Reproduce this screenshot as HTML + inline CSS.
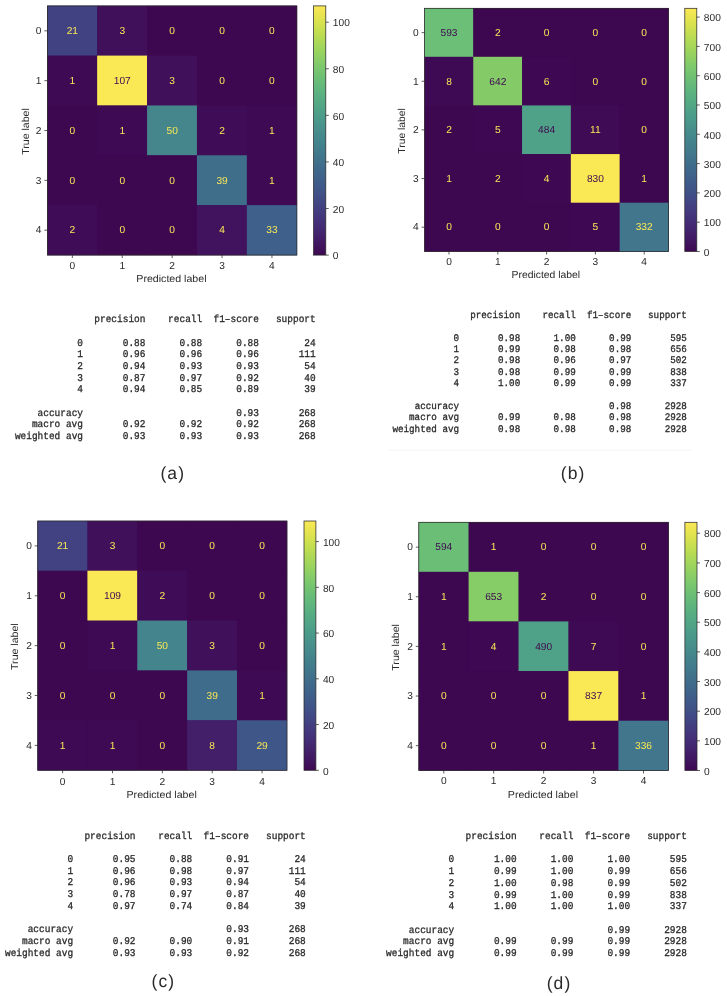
<!DOCTYPE html>
<html><head><meta charset="utf-8"><title>Confusion matrices</title>
<style>
html,body{margin:0;padding:0;background:#fff;}
body{width:727px;height:996px;overflow:hidden;}
svg{display:block;filter:blur(0.45px);}
text{font-family:"Liberation Sans",sans-serif;text-rendering:geometricPrecision;}
.m{font-family:"Liberation Mono",monospace;white-space:pre;}
</style></head><body>
<svg width="727" height="996" viewBox="0 0 727 996">
<rect x="0" y="0" width="727" height="996" fill="#ffffff"/>
<defs><linearGradient id="vir" x1="0" y1="1" x2="0" y2="0">
<stop offset="0.0000" stop-color="#3e0851"/>
<stop offset="0.0312" stop-color="#40125c"/>
<stop offset="0.0625" stop-color="#421b66"/>
<stop offset="0.0938" stop-color="#43256f"/>
<stop offset="0.1250" stop-color="#432e77"/>
<stop offset="0.1562" stop-color="#43377d"/>
<stop offset="0.1875" stop-color="#424081"/>
<stop offset="0.2188" stop-color="#414985"/>
<stop offset="0.2500" stop-color="#405287"/>
<stop offset="0.2812" stop-color="#3f5a89"/>
<stop offset="0.3125" stop-color="#3f628a"/>
<stop offset="0.3438" stop-color="#3f698b"/>
<stop offset="0.3750" stop-color="#40718b"/>
<stop offset="0.4062" stop-color="#41788c"/>
<stop offset="0.4375" stop-color="#42808c"/>
<stop offset="0.4688" stop-color="#44878c"/>
<stop offset="0.5000" stop-color="#478e8c"/>
<stop offset="0.5312" stop-color="#49968b"/>
<stop offset="0.5625" stop-color="#4c9d89"/>
<stop offset="0.5938" stop-color="#51a586"/>
<stop offset="0.6250" stop-color="#56ac83"/>
<stop offset="0.6562" stop-color="#5db37f"/>
<stop offset="0.6875" stop-color="#65ba7a"/>
<stop offset="0.7188" stop-color="#6fc074"/>
<stop offset="0.7500" stop-color="#7ac76e"/>
<stop offset="0.7812" stop-color="#88cd67"/>
<stop offset="0.8125" stop-color="#96d25f"/>
<stop offset="0.8438" stop-color="#a6d759"/>
<stop offset="0.8750" stop-color="#b7db53"/>
<stop offset="0.9062" stop-color="#c8df4f"/>
<stop offset="0.9375" stop-color="#dae24e"/>
<stop offset="0.9688" stop-color="#ebe550"/>
<stop offset="1.0000" stop-color="#fae855"/>
</linearGradient></defs>
<g>
<rect x="47.40" y="5.90" width="249.50" height="249.20" fill="#3e0851"/>
<rect x="47.25" y="5.75" width="50.20" height="50.14" fill="#414282"/>
<rect x="97.15" y="5.75" width="50.20" height="50.14" fill="#40105b"/>
<rect x="147.05" y="5.75" width="50.20" height="50.14" fill="#3e0851"/>
<rect x="196.95" y="5.75" width="50.20" height="50.14" fill="#3e0851"/>
<rect x="246.85" y="5.75" width="50.20" height="50.14" fill="#3e0851"/>
<rect x="47.25" y="55.59" width="50.20" height="50.14" fill="#3e0a54"/>
<rect x="97.15" y="55.59" width="50.20" height="50.14" fill="#fae855"/>
<rect x="147.05" y="55.59" width="50.20" height="50.14" fill="#40105b"/>
<rect x="196.95" y="55.59" width="50.20" height="50.14" fill="#3e0851"/>
<rect x="246.85" y="55.59" width="50.20" height="50.14" fill="#3e0851"/>
<rect x="47.25" y="105.43" width="50.20" height="50.14" fill="#3e0851"/>
<rect x="97.15" y="105.43" width="50.20" height="50.14" fill="#3e0a54"/>
<rect x="147.05" y="105.43" width="50.20" height="50.14" fill="#44868c"/>
<rect x="196.95" y="105.43" width="50.20" height="50.14" fill="#3f0d57"/>
<rect x="246.85" y="105.43" width="50.20" height="50.14" fill="#3e0a54"/>
<rect x="47.25" y="155.27" width="50.20" height="50.14" fill="#3e0851"/>
<rect x="97.15" y="155.27" width="50.20" height="50.14" fill="#3e0851"/>
<rect x="147.05" y="155.27" width="50.20" height="50.14" fill="#3e0851"/>
<rect x="196.95" y="155.27" width="50.20" height="50.14" fill="#3f6e8b"/>
<rect x="246.85" y="155.27" width="50.20" height="50.14" fill="#3e0a54"/>
<rect x="47.25" y="205.11" width="50.20" height="50.14" fill="#3f0d57"/>
<rect x="97.15" y="205.11" width="50.20" height="50.14" fill="#3e0851"/>
<rect x="147.05" y="205.11" width="50.20" height="50.14" fill="#3e0851"/>
<rect x="196.95" y="205.11" width="50.20" height="50.14" fill="#41135e"/>
<rect x="246.85" y="205.11" width="50.20" height="50.14" fill="#3f608a"/>
<rect x="47.40" y="5.90" width="249.50" height="249.20" fill="none" stroke="#2a2a2a" stroke-width="0.75"/>
<text x="72.35" y="34.12" font-size="10.20" text-anchor="middle" fill="#fae855">21</text>
<text x="122.25" y="34.12" font-size="10.20" text-anchor="middle" fill="#fae855">3</text>
<text x="172.15" y="34.12" font-size="10.20" text-anchor="middle" fill="#fae855">0</text>
<text x="222.05" y="34.12" font-size="10.20" text-anchor="middle" fill="#fae855">0</text>
<text x="271.95" y="34.12" font-size="10.20" text-anchor="middle" fill="#fae855">0</text>
<text x="72.35" y="83.96" font-size="10.20" text-anchor="middle" fill="#fae855">1</text>
<text x="122.25" y="83.96" font-size="10.20" text-anchor="middle" fill="#3e0851">107</text>
<text x="172.15" y="83.96" font-size="10.20" text-anchor="middle" fill="#fae855">3</text>
<text x="222.05" y="83.96" font-size="10.20" text-anchor="middle" fill="#fae855">0</text>
<text x="271.95" y="83.96" font-size="10.20" text-anchor="middle" fill="#fae855">0</text>
<text x="72.35" y="133.80" font-size="10.20" text-anchor="middle" fill="#fae855">0</text>
<text x="122.25" y="133.80" font-size="10.20" text-anchor="middle" fill="#fae855">1</text>
<text x="172.15" y="133.80" font-size="10.20" text-anchor="middle" fill="#fae855">50</text>
<text x="222.05" y="133.80" font-size="10.20" text-anchor="middle" fill="#fae855">2</text>
<text x="271.95" y="133.80" font-size="10.20" text-anchor="middle" fill="#fae855">1</text>
<text x="72.35" y="183.64" font-size="10.20" text-anchor="middle" fill="#fae855">0</text>
<text x="122.25" y="183.64" font-size="10.20" text-anchor="middle" fill="#fae855">0</text>
<text x="172.15" y="183.64" font-size="10.20" text-anchor="middle" fill="#fae855">0</text>
<text x="222.05" y="183.64" font-size="10.20" text-anchor="middle" fill="#fae855">39</text>
<text x="271.95" y="183.64" font-size="10.20" text-anchor="middle" fill="#fae855">1</text>
<text x="72.35" y="233.48" font-size="10.20" text-anchor="middle" fill="#fae855">2</text>
<text x="122.25" y="233.48" font-size="10.20" text-anchor="middle" fill="#fae855">0</text>
<text x="172.15" y="233.48" font-size="10.20" text-anchor="middle" fill="#fae855">0</text>
<text x="222.05" y="233.48" font-size="10.20" text-anchor="middle" fill="#fae855">4</text>
<text x="271.95" y="233.48" font-size="10.20" text-anchor="middle" fill="#fae855">33</text>
<line x1="72.35" y1="255.10" x2="72.35" y2="258.10" stroke="#2a2a2a" stroke-width="0.75"/>
<line x1="44.40" y1="30.82" x2="47.40" y2="30.82" stroke="#2a2a2a" stroke-width="0.75"/>
<text x="72.35" y="269.20" font-size="10.2" text-anchor="middle" fill="#2a2a2a">0</text>
<text x="41.50" y="34.12" font-size="10.2" text-anchor="end" fill="#2a2a2a">0</text>
<line x1="122.25" y1="255.10" x2="122.25" y2="258.10" stroke="#2a2a2a" stroke-width="0.75"/>
<line x1="44.40" y1="80.66" x2="47.40" y2="80.66" stroke="#2a2a2a" stroke-width="0.75"/>
<text x="122.25" y="269.20" font-size="10.2" text-anchor="middle" fill="#2a2a2a">1</text>
<text x="41.50" y="83.96" font-size="10.2" text-anchor="end" fill="#2a2a2a">1</text>
<line x1="172.15" y1="255.10" x2="172.15" y2="258.10" stroke="#2a2a2a" stroke-width="0.75"/>
<line x1="44.40" y1="130.50" x2="47.40" y2="130.50" stroke="#2a2a2a" stroke-width="0.75"/>
<text x="172.15" y="269.20" font-size="10.2" text-anchor="middle" fill="#2a2a2a">2</text>
<text x="41.50" y="133.80" font-size="10.2" text-anchor="end" fill="#2a2a2a">2</text>
<line x1="222.05" y1="255.10" x2="222.05" y2="258.10" stroke="#2a2a2a" stroke-width="0.75"/>
<line x1="44.40" y1="180.34" x2="47.40" y2="180.34" stroke="#2a2a2a" stroke-width="0.75"/>
<text x="222.05" y="269.20" font-size="10.2" text-anchor="middle" fill="#2a2a2a">3</text>
<text x="41.50" y="183.64" font-size="10.2" text-anchor="end" fill="#2a2a2a">3</text>
<line x1="271.95" y1="255.10" x2="271.95" y2="258.10" stroke="#2a2a2a" stroke-width="0.75"/>
<line x1="44.40" y1="230.18" x2="47.40" y2="230.18" stroke="#2a2a2a" stroke-width="0.75"/>
<text x="271.95" y="269.20" font-size="10.2" text-anchor="middle" fill="#2a2a2a">4</text>
<text x="41.50" y="233.48" font-size="10.2" text-anchor="end" fill="#2a2a2a">4</text>
<text x="171.45" y="282.00" font-size="10.10" text-anchor="middle" textLength="70.20" lengthAdjust="spacingAndGlyphs" fill="#2a2a2a">Predicted label</text>
<text transform="translate(29.00 131.50) rotate(-90)" font-size="10.10" text-anchor="middle" textLength="46.60" lengthAdjust="spacingAndGlyphs" fill="#2a2a2a">True label</text>
<rect x="313.60" y="5.90" width="12.20" height="249.20" fill="url(#vir)" stroke="#2a2a2a" stroke-width="0.75"/>
<line x1="325.80" y1="255.10" x2="328.80" y2="255.10" stroke="#2a2a2a" stroke-width="0.75"/>
<text x="332.80" y="259.30" font-size="10.2" fill="#2a2a2a">0</text>
<line x1="325.80" y1="208.52" x2="328.80" y2="208.52" stroke="#2a2a2a" stroke-width="0.75"/>
<text x="332.80" y="212.72" font-size="10.2" fill="#2a2a2a">20</text>
<line x1="325.80" y1="161.94" x2="328.80" y2="161.94" stroke="#2a2a2a" stroke-width="0.75"/>
<text x="332.80" y="166.14" font-size="10.2" fill="#2a2a2a">40</text>
<line x1="325.80" y1="115.36" x2="328.80" y2="115.36" stroke="#2a2a2a" stroke-width="0.75"/>
<text x="332.80" y="119.56" font-size="10.2" fill="#2a2a2a">60</text>
<line x1="325.80" y1="68.78" x2="328.80" y2="68.78" stroke="#2a2a2a" stroke-width="0.75"/>
<text x="332.80" y="72.98" font-size="10.2" fill="#2a2a2a">80</text>
<line x1="325.80" y1="22.20" x2="328.80" y2="22.20" stroke="#2a2a2a" stroke-width="0.75"/>
<text x="332.80" y="26.40" font-size="10.2" fill="#2a2a2a">100</text>
</g>
<g>
<rect x="424.60" y="8.30" width="244.00" height="243.20" fill="#3e0851"/>
<rect x="424.45" y="8.15" width="49.10" height="48.94" fill="#6cbf76"/>
<rect x="473.25" y="8.15" width="49.10" height="48.94" fill="#3e0851"/>
<rect x="522.05" y="8.15" width="49.10" height="48.94" fill="#3e0851"/>
<rect x="570.85" y="8.15" width="49.10" height="48.94" fill="#3e0851"/>
<rect x="619.65" y="8.15" width="49.10" height="48.94" fill="#3e0851"/>
<rect x="424.45" y="56.79" width="49.10" height="48.94" fill="#3e0a54"/>
<rect x="473.25" y="56.79" width="49.10" height="48.94" fill="#84cb68"/>
<rect x="522.05" y="56.79" width="49.10" height="48.94" fill="#3e0952"/>
<rect x="570.85" y="56.79" width="49.10" height="48.94" fill="#3e0851"/>
<rect x="619.65" y="56.79" width="49.10" height="48.94" fill="#3e0851"/>
<rect x="424.45" y="105.43" width="49.10" height="48.94" fill="#3e0851"/>
<rect x="473.25" y="105.43" width="49.10" height="48.94" fill="#3e0952"/>
<rect x="522.05" y="105.43" width="49.10" height="48.94" fill="#4fa287"/>
<rect x="570.85" y="105.43" width="49.10" height="48.94" fill="#3f0b55"/>
<rect x="619.65" y="105.43" width="49.10" height="48.94" fill="#3e0851"/>
<rect x="424.45" y="154.07" width="49.10" height="48.94" fill="#3e0851"/>
<rect x="473.25" y="154.07" width="49.10" height="48.94" fill="#3e0851"/>
<rect x="522.05" y="154.07" width="49.10" height="48.94" fill="#3e0952"/>
<rect x="570.85" y="154.07" width="49.10" height="48.94" fill="#fae855"/>
<rect x="619.65" y="154.07" width="49.10" height="48.94" fill="#3e0851"/>
<rect x="424.45" y="202.71" width="49.10" height="48.94" fill="#3e0851"/>
<rect x="473.25" y="202.71" width="49.10" height="48.94" fill="#3e0851"/>
<rect x="522.05" y="202.71" width="49.10" height="48.94" fill="#3e0851"/>
<rect x="570.85" y="202.71" width="49.10" height="48.94" fill="#3e0952"/>
<rect x="619.65" y="202.71" width="49.10" height="48.94" fill="#41768c"/>
<rect x="424.60" y="8.30" width="244.00" height="243.20" fill="none" stroke="#2a2a2a" stroke-width="0.75"/>
<text x="449.00" y="35.92" font-size="10.20" text-anchor="middle" fill="#3e0851">593</text>
<text x="497.80" y="35.92" font-size="10.20" text-anchor="middle" fill="#fae855">2</text>
<text x="546.60" y="35.92" font-size="10.20" text-anchor="middle" fill="#fae855">0</text>
<text x="595.40" y="35.92" font-size="10.20" text-anchor="middle" fill="#fae855">0</text>
<text x="644.20" y="35.92" font-size="10.20" text-anchor="middle" fill="#fae855">0</text>
<text x="449.00" y="84.56" font-size="10.20" text-anchor="middle" fill="#fae855">8</text>
<text x="497.80" y="84.56" font-size="10.20" text-anchor="middle" fill="#3e0851">642</text>
<text x="546.60" y="84.56" font-size="10.20" text-anchor="middle" fill="#fae855">6</text>
<text x="595.40" y="84.56" font-size="10.20" text-anchor="middle" fill="#fae855">0</text>
<text x="644.20" y="84.56" font-size="10.20" text-anchor="middle" fill="#fae855">0</text>
<text x="449.00" y="133.20" font-size="10.20" text-anchor="middle" fill="#fae855">2</text>
<text x="497.80" y="133.20" font-size="10.20" text-anchor="middle" fill="#fae855">5</text>
<text x="546.60" y="133.20" font-size="10.20" text-anchor="middle" fill="#3e0851">484</text>
<text x="595.40" y="133.20" font-size="10.20" text-anchor="middle" fill="#fae855">11</text>
<text x="644.20" y="133.20" font-size="10.20" text-anchor="middle" fill="#fae855">0</text>
<text x="449.00" y="181.84" font-size="10.20" text-anchor="middle" fill="#fae855">1</text>
<text x="497.80" y="181.84" font-size="10.20" text-anchor="middle" fill="#fae855">2</text>
<text x="546.60" y="181.84" font-size="10.20" text-anchor="middle" fill="#fae855">4</text>
<text x="595.40" y="181.84" font-size="10.20" text-anchor="middle" fill="#3e0851">830</text>
<text x="644.20" y="181.84" font-size="10.20" text-anchor="middle" fill="#fae855">1</text>
<text x="449.00" y="230.48" font-size="10.20" text-anchor="middle" fill="#fae855">0</text>
<text x="497.80" y="230.48" font-size="10.20" text-anchor="middle" fill="#fae855">0</text>
<text x="546.60" y="230.48" font-size="10.20" text-anchor="middle" fill="#fae855">0</text>
<text x="595.40" y="230.48" font-size="10.20" text-anchor="middle" fill="#fae855">5</text>
<text x="644.20" y="230.48" font-size="10.20" text-anchor="middle" fill="#fae855">332</text>
<line x1="449.00" y1="251.50" x2="449.00" y2="254.50" stroke="#2a2a2a" stroke-width="0.75"/>
<line x1="421.60" y1="32.62" x2="424.60" y2="32.62" stroke="#2a2a2a" stroke-width="0.75"/>
<text x="449.00" y="264.80" font-size="10.2" text-anchor="middle" fill="#2a2a2a">0</text>
<text x="418.70" y="35.92" font-size="10.2" text-anchor="end" fill="#2a2a2a">0</text>
<line x1="497.80" y1="251.50" x2="497.80" y2="254.50" stroke="#2a2a2a" stroke-width="0.75"/>
<line x1="421.60" y1="81.26" x2="424.60" y2="81.26" stroke="#2a2a2a" stroke-width="0.75"/>
<text x="497.80" y="264.80" font-size="10.2" text-anchor="middle" fill="#2a2a2a">1</text>
<text x="418.70" y="84.56" font-size="10.2" text-anchor="end" fill="#2a2a2a">1</text>
<line x1="546.60" y1="251.50" x2="546.60" y2="254.50" stroke="#2a2a2a" stroke-width="0.75"/>
<line x1="421.60" y1="129.90" x2="424.60" y2="129.90" stroke="#2a2a2a" stroke-width="0.75"/>
<text x="546.60" y="264.80" font-size="10.2" text-anchor="middle" fill="#2a2a2a">2</text>
<text x="418.70" y="133.20" font-size="10.2" text-anchor="end" fill="#2a2a2a">2</text>
<line x1="595.40" y1="251.50" x2="595.40" y2="254.50" stroke="#2a2a2a" stroke-width="0.75"/>
<line x1="421.60" y1="178.54" x2="424.60" y2="178.54" stroke="#2a2a2a" stroke-width="0.75"/>
<text x="595.40" y="264.80" font-size="10.2" text-anchor="middle" fill="#2a2a2a">3</text>
<text x="418.70" y="181.84" font-size="10.2" text-anchor="end" fill="#2a2a2a">3</text>
<line x1="644.20" y1="251.50" x2="644.20" y2="254.50" stroke="#2a2a2a" stroke-width="0.75"/>
<line x1="421.60" y1="227.18" x2="424.60" y2="227.18" stroke="#2a2a2a" stroke-width="0.75"/>
<text x="644.20" y="264.80" font-size="10.2" text-anchor="middle" fill="#2a2a2a">4</text>
<text x="418.70" y="230.48" font-size="10.2" text-anchor="end" fill="#2a2a2a">4</text>
<text x="545.90" y="278.20" font-size="10.10" text-anchor="middle" textLength="68.59" lengthAdjust="spacingAndGlyphs" fill="#2a2a2a">Predicted label</text>
<text transform="translate(405.40 130.90) rotate(-90)" font-size="10.10" text-anchor="middle" textLength="45.53" lengthAdjust="spacingAndGlyphs" fill="#2a2a2a">True label</text>
<rect x="684.80" y="8.30" width="12.00" height="243.20" fill="url(#vir)" stroke="#2a2a2a" stroke-width="0.75"/>
<line x1="696.80" y1="251.50" x2="699.80" y2="251.50" stroke="#2a2a2a" stroke-width="0.75"/>
<text x="703.80" y="255.70" font-size="10.2" fill="#2a2a2a">0</text>
<line x1="696.80" y1="222.20" x2="699.80" y2="222.20" stroke="#2a2a2a" stroke-width="0.75"/>
<text x="703.80" y="226.40" font-size="10.2" fill="#2a2a2a">100</text>
<line x1="696.80" y1="192.90" x2="699.80" y2="192.90" stroke="#2a2a2a" stroke-width="0.75"/>
<text x="703.80" y="197.10" font-size="10.2" fill="#2a2a2a">200</text>
<line x1="696.80" y1="163.60" x2="699.80" y2="163.60" stroke="#2a2a2a" stroke-width="0.75"/>
<text x="703.80" y="167.80" font-size="10.2" fill="#2a2a2a">300</text>
<line x1="696.80" y1="134.30" x2="699.80" y2="134.30" stroke="#2a2a2a" stroke-width="0.75"/>
<text x="703.80" y="138.50" font-size="10.2" fill="#2a2a2a">400</text>
<line x1="696.80" y1="104.99" x2="699.80" y2="104.99" stroke="#2a2a2a" stroke-width="0.75"/>
<text x="703.80" y="109.19" font-size="10.2" fill="#2a2a2a">500</text>
<line x1="696.80" y1="75.69" x2="699.80" y2="75.69" stroke="#2a2a2a" stroke-width="0.75"/>
<text x="703.80" y="79.89" font-size="10.2" fill="#2a2a2a">600</text>
<line x1="696.80" y1="46.39" x2="699.80" y2="46.39" stroke="#2a2a2a" stroke-width="0.75"/>
<text x="703.80" y="50.59" font-size="10.2" fill="#2a2a2a">700</text>
<line x1="696.80" y1="17.09" x2="699.80" y2="17.09" stroke="#2a2a2a" stroke-width="0.75"/>
<text x="703.80" y="21.29" font-size="10.2" fill="#2a2a2a">800</text>
</g>
<g>
<rect x="37.70" y="521.00" width="249.30" height="249.30" fill="#3e0851"/>
<rect x="37.55" y="520.85" width="50.16" height="50.16" fill="#424182"/>
<rect x="87.41" y="520.85" width="50.16" height="50.16" fill="#40105b"/>
<rect x="137.27" y="520.85" width="50.16" height="50.16" fill="#3e0851"/>
<rect x="187.13" y="520.85" width="50.16" height="50.16" fill="#3e0851"/>
<rect x="236.99" y="520.85" width="50.16" height="50.16" fill="#3e0851"/>
<rect x="37.55" y="570.71" width="50.16" height="50.16" fill="#3e0851"/>
<rect x="87.41" y="570.71" width="50.16" height="50.16" fill="#fae855"/>
<rect x="137.27" y="570.71" width="50.16" height="50.16" fill="#3f0d57"/>
<rect x="187.13" y="570.71" width="50.16" height="50.16" fill="#3e0851"/>
<rect x="236.99" y="570.71" width="50.16" height="50.16" fill="#3e0851"/>
<rect x="37.55" y="620.57" width="50.16" height="50.16" fill="#3e0851"/>
<rect x="87.41" y="620.57" width="50.16" height="50.16" fill="#3e0a54"/>
<rect x="137.27" y="620.57" width="50.16" height="50.16" fill="#44848c"/>
<rect x="187.13" y="620.57" width="50.16" height="50.16" fill="#40105b"/>
<rect x="236.99" y="620.57" width="50.16" height="50.16" fill="#3e0851"/>
<rect x="37.55" y="670.43" width="50.16" height="50.16" fill="#3e0851"/>
<rect x="87.41" y="670.43" width="50.16" height="50.16" fill="#3e0851"/>
<rect x="137.27" y="670.43" width="50.16" height="50.16" fill="#3e0851"/>
<rect x="187.13" y="670.43" width="50.16" height="50.16" fill="#3f6c8b"/>
<rect x="236.99" y="670.43" width="50.16" height="50.16" fill="#3e0a54"/>
<rect x="37.55" y="720.29" width="50.16" height="50.16" fill="#3e0a54"/>
<rect x="87.41" y="720.29" width="50.16" height="50.16" fill="#3e0a54"/>
<rect x="137.27" y="720.29" width="50.16" height="50.16" fill="#3e0851"/>
<rect x="187.13" y="720.29" width="50.16" height="50.16" fill="#431e69"/>
<rect x="236.99" y="720.29" width="50.16" height="50.16" fill="#3f5688"/>
<rect x="37.70" y="521.00" width="249.30" height="249.30" fill="none" stroke="#2a2a2a" stroke-width="0.75"/>
<text x="62.63" y="549.23" font-size="10.20" text-anchor="middle" fill="#fae855">21</text>
<text x="112.49" y="549.23" font-size="10.20" text-anchor="middle" fill="#fae855">3</text>
<text x="162.35" y="549.23" font-size="10.20" text-anchor="middle" fill="#fae855">0</text>
<text x="212.21" y="549.23" font-size="10.20" text-anchor="middle" fill="#fae855">0</text>
<text x="262.07" y="549.23" font-size="10.20" text-anchor="middle" fill="#fae855">0</text>
<text x="62.63" y="599.09" font-size="10.20" text-anchor="middle" fill="#fae855">0</text>
<text x="112.49" y="599.09" font-size="10.20" text-anchor="middle" fill="#3e0851">109</text>
<text x="162.35" y="599.09" font-size="10.20" text-anchor="middle" fill="#fae855">2</text>
<text x="212.21" y="599.09" font-size="10.20" text-anchor="middle" fill="#fae855">0</text>
<text x="262.07" y="599.09" font-size="10.20" text-anchor="middle" fill="#fae855">0</text>
<text x="62.63" y="648.95" font-size="10.20" text-anchor="middle" fill="#fae855">0</text>
<text x="112.49" y="648.95" font-size="10.20" text-anchor="middle" fill="#fae855">1</text>
<text x="162.35" y="648.95" font-size="10.20" text-anchor="middle" fill="#fae855">50</text>
<text x="212.21" y="648.95" font-size="10.20" text-anchor="middle" fill="#fae855">3</text>
<text x="262.07" y="648.95" font-size="10.20" text-anchor="middle" fill="#fae855">0</text>
<text x="62.63" y="698.81" font-size="10.20" text-anchor="middle" fill="#fae855">0</text>
<text x="112.49" y="698.81" font-size="10.20" text-anchor="middle" fill="#fae855">0</text>
<text x="162.35" y="698.81" font-size="10.20" text-anchor="middle" fill="#fae855">0</text>
<text x="212.21" y="698.81" font-size="10.20" text-anchor="middle" fill="#fae855">39</text>
<text x="262.07" y="698.81" font-size="10.20" text-anchor="middle" fill="#fae855">1</text>
<text x="62.63" y="748.67" font-size="10.20" text-anchor="middle" fill="#fae855">1</text>
<text x="112.49" y="748.67" font-size="10.20" text-anchor="middle" fill="#fae855">1</text>
<text x="162.35" y="748.67" font-size="10.20" text-anchor="middle" fill="#fae855">0</text>
<text x="212.21" y="748.67" font-size="10.20" text-anchor="middle" fill="#fae855">8</text>
<text x="262.07" y="748.67" font-size="10.20" text-anchor="middle" fill="#fae855">29</text>
<line x1="62.63" y1="770.30" x2="62.63" y2="773.30" stroke="#2a2a2a" stroke-width="0.75"/>
<line x1="34.70" y1="545.93" x2="37.70" y2="545.93" stroke="#2a2a2a" stroke-width="0.75"/>
<text x="62.63" y="784.50" font-size="10.2" text-anchor="middle" fill="#2a2a2a">0</text>
<text x="31.80" y="549.23" font-size="10.2" text-anchor="end" fill="#2a2a2a">0</text>
<line x1="112.49" y1="770.30" x2="112.49" y2="773.30" stroke="#2a2a2a" stroke-width="0.75"/>
<line x1="34.70" y1="595.79" x2="37.70" y2="595.79" stroke="#2a2a2a" stroke-width="0.75"/>
<text x="112.49" y="784.50" font-size="10.2" text-anchor="middle" fill="#2a2a2a">1</text>
<text x="31.80" y="599.09" font-size="10.2" text-anchor="end" fill="#2a2a2a">1</text>
<line x1="162.35" y1="770.30" x2="162.35" y2="773.30" stroke="#2a2a2a" stroke-width="0.75"/>
<line x1="34.70" y1="645.65" x2="37.70" y2="645.65" stroke="#2a2a2a" stroke-width="0.75"/>
<text x="162.35" y="784.50" font-size="10.2" text-anchor="middle" fill="#2a2a2a">2</text>
<text x="31.80" y="648.95" font-size="10.2" text-anchor="end" fill="#2a2a2a">2</text>
<line x1="212.21" y1="770.30" x2="212.21" y2="773.30" stroke="#2a2a2a" stroke-width="0.75"/>
<line x1="34.70" y1="695.51" x2="37.70" y2="695.51" stroke="#2a2a2a" stroke-width="0.75"/>
<text x="212.21" y="784.50" font-size="10.2" text-anchor="middle" fill="#2a2a2a">3</text>
<text x="31.80" y="698.81" font-size="10.2" text-anchor="end" fill="#2a2a2a">3</text>
<line x1="262.07" y1="770.30" x2="262.07" y2="773.30" stroke="#2a2a2a" stroke-width="0.75"/>
<line x1="34.70" y1="745.37" x2="37.70" y2="745.37" stroke="#2a2a2a" stroke-width="0.75"/>
<text x="262.07" y="784.50" font-size="10.2" text-anchor="middle" fill="#2a2a2a">4</text>
<text x="31.80" y="748.67" font-size="10.2" text-anchor="end" fill="#2a2a2a">4</text>
<text x="161.65" y="798.20" font-size="10.10" text-anchor="middle" textLength="70.20" lengthAdjust="spacingAndGlyphs" fill="#2a2a2a">Predicted label</text>
<text transform="translate(18.10 646.65) rotate(-90)" font-size="10.10" text-anchor="middle" textLength="46.60" lengthAdjust="spacingAndGlyphs" fill="#2a2a2a">True label</text>
<rect x="304.00" y="521.00" width="11.90" height="249.30" fill="url(#vir)" stroke="#2a2a2a" stroke-width="0.75"/>
<line x1="315.90" y1="770.30" x2="318.90" y2="770.30" stroke="#2a2a2a" stroke-width="0.75"/>
<text x="322.90" y="774.50" font-size="10.2" fill="#2a2a2a">0</text>
<line x1="315.90" y1="724.56" x2="318.90" y2="724.56" stroke="#2a2a2a" stroke-width="0.75"/>
<text x="322.90" y="728.76" font-size="10.2" fill="#2a2a2a">20</text>
<line x1="315.90" y1="678.81" x2="318.90" y2="678.81" stroke="#2a2a2a" stroke-width="0.75"/>
<text x="322.90" y="683.01" font-size="10.2" fill="#2a2a2a">40</text>
<line x1="315.90" y1="633.07" x2="318.90" y2="633.07" stroke="#2a2a2a" stroke-width="0.75"/>
<text x="322.90" y="637.27" font-size="10.2" fill="#2a2a2a">60</text>
<line x1="315.90" y1="587.33" x2="318.90" y2="587.33" stroke="#2a2a2a" stroke-width="0.75"/>
<text x="322.90" y="591.53" font-size="10.2" fill="#2a2a2a">80</text>
<line x1="315.90" y1="541.58" x2="318.90" y2="541.58" stroke="#2a2a2a" stroke-width="0.75"/>
<text x="322.90" y="545.78" font-size="10.2" fill="#2a2a2a">100</text>
</g>
<g>
<rect x="418.80" y="522.30" width="249.70" height="248.20" fill="#3e0851"/>
<rect x="418.65" y="522.15" width="50.24" height="49.94" fill="#6bbe76"/>
<rect x="468.59" y="522.15" width="50.24" height="49.94" fill="#3e0851"/>
<rect x="518.53" y="522.15" width="50.24" height="49.94" fill="#3e0851"/>
<rect x="568.47" y="522.15" width="50.24" height="49.94" fill="#3e0851"/>
<rect x="618.41" y="522.15" width="50.24" height="49.94" fill="#3e0851"/>
<rect x="418.65" y="571.79" width="50.24" height="49.94" fill="#3e0851"/>
<rect x="468.59" y="571.79" width="50.24" height="49.94" fill="#86cc67"/>
<rect x="518.53" y="571.79" width="50.24" height="49.94" fill="#3e0851"/>
<rect x="568.47" y="571.79" width="50.24" height="49.94" fill="#3e0851"/>
<rect x="618.41" y="571.79" width="50.24" height="49.94" fill="#3e0851"/>
<rect x="418.65" y="621.43" width="50.24" height="49.94" fill="#3e0851"/>
<rect x="468.59" y="621.43" width="50.24" height="49.94" fill="#3e0952"/>
<rect x="518.53" y="621.43" width="50.24" height="49.94" fill="#4fa287"/>
<rect x="568.47" y="621.43" width="50.24" height="49.94" fill="#3e0a54"/>
<rect x="618.41" y="621.43" width="50.24" height="49.94" fill="#3e0851"/>
<rect x="418.65" y="671.07" width="50.24" height="49.94" fill="#3e0851"/>
<rect x="468.59" y="671.07" width="50.24" height="49.94" fill="#3e0851"/>
<rect x="518.53" y="671.07" width="50.24" height="49.94" fill="#3e0851"/>
<rect x="568.47" y="671.07" width="50.24" height="49.94" fill="#fae855"/>
<rect x="618.41" y="671.07" width="50.24" height="49.94" fill="#3e0851"/>
<rect x="418.65" y="720.71" width="50.24" height="49.94" fill="#3e0851"/>
<rect x="468.59" y="720.71" width="50.24" height="49.94" fill="#3e0851"/>
<rect x="518.53" y="720.71" width="50.24" height="49.94" fill="#3e0851"/>
<rect x="568.47" y="720.71" width="50.24" height="49.94" fill="#3e0851"/>
<rect x="618.41" y="720.71" width="50.24" height="49.94" fill="#41768c"/>
<rect x="418.80" y="522.30" width="249.70" height="248.20" fill="none" stroke="#2a2a2a" stroke-width="0.75"/>
<text x="443.77" y="550.42" font-size="10.20" text-anchor="middle" fill="#3e0851">594</text>
<text x="493.71" y="550.42" font-size="10.20" text-anchor="middle" fill="#fae855">1</text>
<text x="543.65" y="550.42" font-size="10.20" text-anchor="middle" fill="#fae855">0</text>
<text x="593.59" y="550.42" font-size="10.20" text-anchor="middle" fill="#fae855">0</text>
<text x="643.53" y="550.42" font-size="10.20" text-anchor="middle" fill="#fae855">0</text>
<text x="443.77" y="600.06" font-size="10.20" text-anchor="middle" fill="#fae855">1</text>
<text x="493.71" y="600.06" font-size="10.20" text-anchor="middle" fill="#3e0851">653</text>
<text x="543.65" y="600.06" font-size="10.20" text-anchor="middle" fill="#fae855">2</text>
<text x="593.59" y="600.06" font-size="10.20" text-anchor="middle" fill="#fae855">0</text>
<text x="643.53" y="600.06" font-size="10.20" text-anchor="middle" fill="#fae855">0</text>
<text x="443.77" y="649.70" font-size="10.20" text-anchor="middle" fill="#fae855">1</text>
<text x="493.71" y="649.70" font-size="10.20" text-anchor="middle" fill="#fae855">4</text>
<text x="543.65" y="649.70" font-size="10.20" text-anchor="middle" fill="#3e0851">490</text>
<text x="593.59" y="649.70" font-size="10.20" text-anchor="middle" fill="#fae855">7</text>
<text x="643.53" y="649.70" font-size="10.20" text-anchor="middle" fill="#fae855">0</text>
<text x="443.77" y="699.34" font-size="10.20" text-anchor="middle" fill="#fae855">0</text>
<text x="493.71" y="699.34" font-size="10.20" text-anchor="middle" fill="#fae855">0</text>
<text x="543.65" y="699.34" font-size="10.20" text-anchor="middle" fill="#fae855">0</text>
<text x="593.59" y="699.34" font-size="10.20" text-anchor="middle" fill="#3e0851">837</text>
<text x="643.53" y="699.34" font-size="10.20" text-anchor="middle" fill="#fae855">1</text>
<text x="443.77" y="748.98" font-size="10.20" text-anchor="middle" fill="#fae855">0</text>
<text x="493.71" y="748.98" font-size="10.20" text-anchor="middle" fill="#fae855">0</text>
<text x="543.65" y="748.98" font-size="10.20" text-anchor="middle" fill="#fae855">0</text>
<text x="593.59" y="748.98" font-size="10.20" text-anchor="middle" fill="#fae855">1</text>
<text x="643.53" y="748.98" font-size="10.20" text-anchor="middle" fill="#fae855">336</text>
<line x1="443.77" y1="770.50" x2="443.77" y2="773.50" stroke="#2a2a2a" stroke-width="0.75"/>
<line x1="415.80" y1="547.12" x2="418.80" y2="547.12" stroke="#2a2a2a" stroke-width="0.75"/>
<text x="443.77" y="784.40" font-size="10.2" text-anchor="middle" fill="#2a2a2a">0</text>
<text x="412.90" y="550.42" font-size="10.2" text-anchor="end" fill="#2a2a2a">0</text>
<line x1="493.71" y1="770.50" x2="493.71" y2="773.50" stroke="#2a2a2a" stroke-width="0.75"/>
<line x1="415.80" y1="596.76" x2="418.80" y2="596.76" stroke="#2a2a2a" stroke-width="0.75"/>
<text x="493.71" y="784.40" font-size="10.2" text-anchor="middle" fill="#2a2a2a">1</text>
<text x="412.90" y="600.06" font-size="10.2" text-anchor="end" fill="#2a2a2a">1</text>
<line x1="543.65" y1="770.50" x2="543.65" y2="773.50" stroke="#2a2a2a" stroke-width="0.75"/>
<line x1="415.80" y1="646.40" x2="418.80" y2="646.40" stroke="#2a2a2a" stroke-width="0.75"/>
<text x="543.65" y="784.40" font-size="10.2" text-anchor="middle" fill="#2a2a2a">2</text>
<text x="412.90" y="649.70" font-size="10.2" text-anchor="end" fill="#2a2a2a">2</text>
<line x1="593.59" y1="770.50" x2="593.59" y2="773.50" stroke="#2a2a2a" stroke-width="0.75"/>
<line x1="415.80" y1="696.04" x2="418.80" y2="696.04" stroke="#2a2a2a" stroke-width="0.75"/>
<text x="593.59" y="784.40" font-size="10.2" text-anchor="middle" fill="#2a2a2a">3</text>
<text x="412.90" y="699.34" font-size="10.2" text-anchor="end" fill="#2a2a2a">3</text>
<line x1="643.53" y1="770.50" x2="643.53" y2="773.50" stroke="#2a2a2a" stroke-width="0.75"/>
<line x1="415.80" y1="745.68" x2="418.80" y2="745.68" stroke="#2a2a2a" stroke-width="0.75"/>
<text x="643.53" y="784.40" font-size="10.2" text-anchor="middle" fill="#2a2a2a">4</text>
<text x="412.90" y="748.98" font-size="10.2" text-anchor="end" fill="#2a2a2a">4</text>
<text x="542.95" y="798.10" font-size="10.10" text-anchor="middle" textLength="70.20" lengthAdjust="spacingAndGlyphs" fill="#2a2a2a">Predicted label</text>
<text transform="translate(399.00 647.40) rotate(-90)" font-size="10.10" text-anchor="middle" textLength="46.60" lengthAdjust="spacingAndGlyphs" fill="#2a2a2a">True label</text>
<rect x="684.90" y="522.30" width="12.10" height="248.20" fill="url(#vir)" stroke="#2a2a2a" stroke-width="0.75"/>
<line x1="697.00" y1="770.50" x2="700.00" y2="770.50" stroke="#2a2a2a" stroke-width="0.75"/>
<text x="704.00" y="774.70" font-size="10.2" fill="#2a2a2a">0</text>
<line x1="697.00" y1="740.85" x2="700.00" y2="740.85" stroke="#2a2a2a" stroke-width="0.75"/>
<text x="704.00" y="745.05" font-size="10.2" fill="#2a2a2a">100</text>
<line x1="697.00" y1="711.19" x2="700.00" y2="711.19" stroke="#2a2a2a" stroke-width="0.75"/>
<text x="704.00" y="715.39" font-size="10.2" fill="#2a2a2a">200</text>
<line x1="697.00" y1="681.54" x2="700.00" y2="681.54" stroke="#2a2a2a" stroke-width="0.75"/>
<text x="704.00" y="685.74" font-size="10.2" fill="#2a2a2a">300</text>
<line x1="697.00" y1="651.89" x2="700.00" y2="651.89" stroke="#2a2a2a" stroke-width="0.75"/>
<text x="704.00" y="656.09" font-size="10.2" fill="#2a2a2a">400</text>
<line x1="697.00" y1="622.23" x2="700.00" y2="622.23" stroke="#2a2a2a" stroke-width="0.75"/>
<text x="704.00" y="626.43" font-size="10.2" fill="#2a2a2a">500</text>
<line x1="697.00" y1="592.58" x2="700.00" y2="592.58" stroke="#2a2a2a" stroke-width="0.75"/>
<text x="704.00" y="596.78" font-size="10.2" fill="#2a2a2a">600</text>
<line x1="697.00" y1="562.93" x2="700.00" y2="562.93" stroke="#2a2a2a" stroke-width="0.75"/>
<text x="704.00" y="567.13" font-size="10.2" fill="#2a2a2a">700</text>
<line x1="697.00" y1="533.27" x2="700.00" y2="533.27" stroke="#2a2a2a" stroke-width="0.75"/>
<text x="704.00" y="537.47" font-size="10.2" fill="#2a2a2a">800</text>
</g>
<g class="m" font-size="10.308" fill="#2a2a2a" stroke="#2a2a2a" stroke-width="0.3">
<text class="m" x="94.35" y="322.40" textLength="51.07" lengthAdjust="spacingAndGlyphs">precision</text>
<text class="m" x="168.12" y="322.40" textLength="34.05" lengthAdjust="spacingAndGlyphs">recall</text>
<text class="m" x="213.53" y="322.40" textLength="45.40" lengthAdjust="spacingAndGlyphs">f1–score</text>
<text class="m" x="275.95" y="322.40" textLength="39.73" lengthAdjust="spacingAndGlyphs">support</text>
<text class="m" x="77.33" y="345.74" textLength="5.67" lengthAdjust="spacingAndGlyphs">0</text>
<text class="m" x="122.73" y="345.74" textLength="22.70" lengthAdjust="spacingAndGlyphs">0.88</text>
<text class="m" x="179.47" y="345.74" textLength="22.70" lengthAdjust="spacingAndGlyphs">0.88</text>
<text class="m" x="236.22" y="345.74" textLength="22.70" lengthAdjust="spacingAndGlyphs">0.88</text>
<text class="m" x="304.32" y="345.74" textLength="11.35" lengthAdjust="spacingAndGlyphs">24</text>
<text class="m" x="77.33" y="357.41" textLength="5.67" lengthAdjust="spacingAndGlyphs">1</text>
<text class="m" x="122.73" y="357.41" textLength="22.70" lengthAdjust="spacingAndGlyphs">0.96</text>
<text class="m" x="179.47" y="357.41" textLength="22.70" lengthAdjust="spacingAndGlyphs">0.96</text>
<text class="m" x="236.22" y="357.41" textLength="22.70" lengthAdjust="spacingAndGlyphs">0.96</text>
<text class="m" x="298.65" y="357.41" textLength="17.02" lengthAdjust="spacingAndGlyphs">111</text>
<text class="m" x="77.33" y="369.08" textLength="5.67" lengthAdjust="spacingAndGlyphs">2</text>
<text class="m" x="122.73" y="369.08" textLength="22.70" lengthAdjust="spacingAndGlyphs">0.94</text>
<text class="m" x="179.47" y="369.08" textLength="22.70" lengthAdjust="spacingAndGlyphs">0.93</text>
<text class="m" x="236.22" y="369.08" textLength="22.70" lengthAdjust="spacingAndGlyphs">0.93</text>
<text class="m" x="304.32" y="369.08" textLength="11.35" lengthAdjust="spacingAndGlyphs">54</text>
<text class="m" x="77.33" y="380.75" textLength="5.67" lengthAdjust="spacingAndGlyphs">3</text>
<text class="m" x="122.73" y="380.75" textLength="22.70" lengthAdjust="spacingAndGlyphs">0.87</text>
<text class="m" x="179.47" y="380.75" textLength="22.70" lengthAdjust="spacingAndGlyphs">0.97</text>
<text class="m" x="236.22" y="380.75" textLength="22.70" lengthAdjust="spacingAndGlyphs">0.92</text>
<text class="m" x="304.32" y="380.75" textLength="11.35" lengthAdjust="spacingAndGlyphs">40</text>
<text class="m" x="77.33" y="392.42" textLength="5.67" lengthAdjust="spacingAndGlyphs">4</text>
<text class="m" x="122.73" y="392.42" textLength="22.70" lengthAdjust="spacingAndGlyphs">0.94</text>
<text class="m" x="179.47" y="392.42" textLength="22.70" lengthAdjust="spacingAndGlyphs">0.85</text>
<text class="m" x="236.22" y="392.42" textLength="22.70" lengthAdjust="spacingAndGlyphs">0.89</text>
<text class="m" x="304.32" y="392.42" textLength="11.35" lengthAdjust="spacingAndGlyphs">39</text>
<text class="m" x="37.60" y="415.76" textLength="45.40" lengthAdjust="spacingAndGlyphs">accuracy</text>
<text class="m" x="236.22" y="415.76" textLength="22.70" lengthAdjust="spacingAndGlyphs">0.93</text>
<text class="m" x="298.65" y="415.76" textLength="17.02" lengthAdjust="spacingAndGlyphs">268</text>
<text class="m" x="31.92" y="427.43" textLength="51.07" lengthAdjust="spacingAndGlyphs">macro avg</text>
<text class="m" x="122.73" y="427.43" textLength="22.70" lengthAdjust="spacingAndGlyphs">0.92</text>
<text class="m" x="179.47" y="427.43" textLength="22.70" lengthAdjust="spacingAndGlyphs">0.92</text>
<text class="m" x="236.22" y="427.43" textLength="22.70" lengthAdjust="spacingAndGlyphs">0.92</text>
<text class="m" x="298.65" y="427.43" textLength="17.02" lengthAdjust="spacingAndGlyphs">268</text>
<text class="m" x="14.90" y="439.10" textLength="68.10" lengthAdjust="spacingAndGlyphs">weighted avg</text>
<text class="m" x="122.73" y="439.10" textLength="22.70" lengthAdjust="spacingAndGlyphs">0.93</text>
<text class="m" x="179.47" y="439.10" textLength="22.70" lengthAdjust="spacingAndGlyphs">0.93</text>
<text class="m" x="236.22" y="439.10" textLength="22.70" lengthAdjust="spacingAndGlyphs">0.93</text>
<text class="m" x="298.65" y="439.10" textLength="17.02" lengthAdjust="spacingAndGlyphs">268</text>
</g>
<g class="m" font-size="10.094" fill="#2a2a2a" stroke="#2a2a2a" stroke-width="0.3">
<text class="m" x="470.20" y="317.90" textLength="50.01" lengthAdjust="spacingAndGlyphs">precision</text>
<text class="m" x="542.44" y="317.90" textLength="33.34" lengthAdjust="spacingAndGlyphs">recall</text>
<text class="m" x="586.89" y="317.90" textLength="44.46" lengthAdjust="spacingAndGlyphs">f1–score</text>
<text class="m" x="648.02" y="317.90" textLength="38.90" lengthAdjust="spacingAndGlyphs">support</text>
<text class="m" x="453.53" y="340.66" textLength="5.56" lengthAdjust="spacingAndGlyphs">0</text>
<text class="m" x="497.98" y="340.66" textLength="22.23" lengthAdjust="spacingAndGlyphs">0.98</text>
<text class="m" x="553.55" y="340.66" textLength="22.23" lengthAdjust="spacingAndGlyphs">1.00</text>
<text class="m" x="609.12" y="340.66" textLength="22.23" lengthAdjust="spacingAndGlyphs">0.99</text>
<text class="m" x="670.25" y="340.66" textLength="16.67" lengthAdjust="spacingAndGlyphs">595</text>
<text class="m" x="453.53" y="352.04" textLength="5.56" lengthAdjust="spacingAndGlyphs">1</text>
<text class="m" x="497.98" y="352.04" textLength="22.23" lengthAdjust="spacingAndGlyphs">0.99</text>
<text class="m" x="553.55" y="352.04" textLength="22.23" lengthAdjust="spacingAndGlyphs">0.98</text>
<text class="m" x="609.12" y="352.04" textLength="22.23" lengthAdjust="spacingAndGlyphs">0.98</text>
<text class="m" x="670.25" y="352.04" textLength="16.67" lengthAdjust="spacingAndGlyphs">656</text>
<text class="m" x="453.53" y="363.42" textLength="5.56" lengthAdjust="spacingAndGlyphs">2</text>
<text class="m" x="497.98" y="363.42" textLength="22.23" lengthAdjust="spacingAndGlyphs">0.98</text>
<text class="m" x="553.55" y="363.42" textLength="22.23" lengthAdjust="spacingAndGlyphs">0.96</text>
<text class="m" x="609.12" y="363.42" textLength="22.23" lengthAdjust="spacingAndGlyphs">0.97</text>
<text class="m" x="670.25" y="363.42" textLength="16.67" lengthAdjust="spacingAndGlyphs">502</text>
<text class="m" x="453.53" y="374.80" textLength="5.56" lengthAdjust="spacingAndGlyphs">3</text>
<text class="m" x="497.98" y="374.80" textLength="22.23" lengthAdjust="spacingAndGlyphs">0.98</text>
<text class="m" x="553.55" y="374.80" textLength="22.23" lengthAdjust="spacingAndGlyphs">0.99</text>
<text class="m" x="609.12" y="374.80" textLength="22.23" lengthAdjust="spacingAndGlyphs">0.99</text>
<text class="m" x="670.25" y="374.80" textLength="16.67" lengthAdjust="spacingAndGlyphs">838</text>
<text class="m" x="453.53" y="386.18" textLength="5.56" lengthAdjust="spacingAndGlyphs">4</text>
<text class="m" x="497.98" y="386.18" textLength="22.23" lengthAdjust="spacingAndGlyphs">1.00</text>
<text class="m" x="553.55" y="386.18" textLength="22.23" lengthAdjust="spacingAndGlyphs">0.99</text>
<text class="m" x="609.12" y="386.18" textLength="22.23" lengthAdjust="spacingAndGlyphs">0.99</text>
<text class="m" x="670.25" y="386.18" textLength="16.67" lengthAdjust="spacingAndGlyphs">337</text>
<text class="m" x="414.63" y="408.94" textLength="44.46" lengthAdjust="spacingAndGlyphs">accuracy</text>
<text class="m" x="609.12" y="408.94" textLength="22.23" lengthAdjust="spacingAndGlyphs">0.98</text>
<text class="m" x="664.69" y="408.94" textLength="22.23" lengthAdjust="spacingAndGlyphs">2928</text>
<text class="m" x="409.07" y="420.32" textLength="50.01" lengthAdjust="spacingAndGlyphs">macro avg</text>
<text class="m" x="497.98" y="420.32" textLength="22.23" lengthAdjust="spacingAndGlyphs">0.99</text>
<text class="m" x="553.55" y="420.32" textLength="22.23" lengthAdjust="spacingAndGlyphs">0.98</text>
<text class="m" x="609.12" y="420.32" textLength="22.23" lengthAdjust="spacingAndGlyphs">0.98</text>
<text class="m" x="664.69" y="420.32" textLength="22.23" lengthAdjust="spacingAndGlyphs">2928</text>
<text class="m" x="392.40" y="431.70" textLength="66.68" lengthAdjust="spacingAndGlyphs">weighted avg</text>
<text class="m" x="497.98" y="431.70" textLength="22.23" lengthAdjust="spacingAndGlyphs">0.98</text>
<text class="m" x="553.55" y="431.70" textLength="22.23" lengthAdjust="spacingAndGlyphs">0.98</text>
<text class="m" x="609.12" y="431.70" textLength="22.23" lengthAdjust="spacingAndGlyphs">0.98</text>
<text class="m" x="664.69" y="431.70" textLength="22.23" lengthAdjust="spacingAndGlyphs">2928</text>
</g>
<g class="m" font-size="10.308" fill="#2a2a2a" stroke="#2a2a2a" stroke-width="0.3">
<text class="m" x="84.45" y="838.50" textLength="51.07" lengthAdjust="spacingAndGlyphs">precision</text>
<text class="m" x="158.22" y="838.50" textLength="34.05" lengthAdjust="spacingAndGlyphs">recall</text>
<text class="m" x="203.62" y="838.50" textLength="45.40" lengthAdjust="spacingAndGlyphs">f1–score</text>
<text class="m" x="266.05" y="838.50" textLength="39.73" lengthAdjust="spacingAndGlyphs">support</text>
<text class="m" x="67.42" y="861.92" textLength="5.67" lengthAdjust="spacingAndGlyphs">0</text>
<text class="m" x="112.83" y="861.92" textLength="22.70" lengthAdjust="spacingAndGlyphs">0.95</text>
<text class="m" x="169.57" y="861.92" textLength="22.70" lengthAdjust="spacingAndGlyphs">0.88</text>
<text class="m" x="226.32" y="861.92" textLength="22.70" lengthAdjust="spacingAndGlyphs">0.91</text>
<text class="m" x="294.43" y="861.92" textLength="11.35" lengthAdjust="spacingAndGlyphs">24</text>
<text class="m" x="67.42" y="873.63" textLength="5.67" lengthAdjust="spacingAndGlyphs">1</text>
<text class="m" x="112.83" y="873.63" textLength="22.70" lengthAdjust="spacingAndGlyphs">0.96</text>
<text class="m" x="169.57" y="873.63" textLength="22.70" lengthAdjust="spacingAndGlyphs">0.98</text>
<text class="m" x="226.32" y="873.63" textLength="22.70" lengthAdjust="spacingAndGlyphs">0.97</text>
<text class="m" x="288.75" y="873.63" textLength="17.02" lengthAdjust="spacingAndGlyphs">111</text>
<text class="m" x="67.42" y="885.34" textLength="5.67" lengthAdjust="spacingAndGlyphs">2</text>
<text class="m" x="112.83" y="885.34" textLength="22.70" lengthAdjust="spacingAndGlyphs">0.96</text>
<text class="m" x="169.57" y="885.34" textLength="22.70" lengthAdjust="spacingAndGlyphs">0.93</text>
<text class="m" x="226.32" y="885.34" textLength="22.70" lengthAdjust="spacingAndGlyphs">0.94</text>
<text class="m" x="294.43" y="885.34" textLength="11.35" lengthAdjust="spacingAndGlyphs">54</text>
<text class="m" x="67.42" y="897.05" textLength="5.67" lengthAdjust="spacingAndGlyphs">3</text>
<text class="m" x="112.83" y="897.05" textLength="22.70" lengthAdjust="spacingAndGlyphs">0.78</text>
<text class="m" x="169.57" y="897.05" textLength="22.70" lengthAdjust="spacingAndGlyphs">0.97</text>
<text class="m" x="226.32" y="897.05" textLength="22.70" lengthAdjust="spacingAndGlyphs">0.87</text>
<text class="m" x="294.43" y="897.05" textLength="11.35" lengthAdjust="spacingAndGlyphs">40</text>
<text class="m" x="67.42" y="908.76" textLength="5.67" lengthAdjust="spacingAndGlyphs">4</text>
<text class="m" x="112.83" y="908.76" textLength="22.70" lengthAdjust="spacingAndGlyphs">0.97</text>
<text class="m" x="169.57" y="908.76" textLength="22.70" lengthAdjust="spacingAndGlyphs">0.74</text>
<text class="m" x="226.32" y="908.76" textLength="22.70" lengthAdjust="spacingAndGlyphs">0.84</text>
<text class="m" x="294.43" y="908.76" textLength="11.35" lengthAdjust="spacingAndGlyphs">39</text>
<text class="m" x="27.70" y="932.18" textLength="45.40" lengthAdjust="spacingAndGlyphs">accuracy</text>
<text class="m" x="226.32" y="932.18" textLength="22.70" lengthAdjust="spacingAndGlyphs">0.93</text>
<text class="m" x="288.75" y="932.18" textLength="17.02" lengthAdjust="spacingAndGlyphs">268</text>
<text class="m" x="22.02" y="943.89" textLength="51.07" lengthAdjust="spacingAndGlyphs">macro avg</text>
<text class="m" x="112.83" y="943.89" textLength="22.70" lengthAdjust="spacingAndGlyphs">0.92</text>
<text class="m" x="169.57" y="943.89" textLength="22.70" lengthAdjust="spacingAndGlyphs">0.90</text>
<text class="m" x="226.32" y="943.89" textLength="22.70" lengthAdjust="spacingAndGlyphs">0.91</text>
<text class="m" x="288.75" y="943.89" textLength="17.02" lengthAdjust="spacingAndGlyphs">268</text>
<text class="m" x="5.00" y="955.60" textLength="68.10" lengthAdjust="spacingAndGlyphs">weighted avg</text>
<text class="m" x="112.83" y="955.60" textLength="22.70" lengthAdjust="spacingAndGlyphs">0.93</text>
<text class="m" x="169.57" y="955.60" textLength="22.70" lengthAdjust="spacingAndGlyphs">0.93</text>
<text class="m" x="226.32" y="955.60" textLength="22.70" lengthAdjust="spacingAndGlyphs">0.92</text>
<text class="m" x="288.75" y="955.60" textLength="17.02" lengthAdjust="spacingAndGlyphs">268</text>
</g>
<g class="m" font-size="10.308" fill="#2a2a2a" stroke="#2a2a2a" stroke-width="0.3">
<text class="m" x="465.55" y="838.90" textLength="51.07" lengthAdjust="spacingAndGlyphs">precision</text>
<text class="m" x="539.33" y="838.90" textLength="34.05" lengthAdjust="spacingAndGlyphs">recall</text>
<text class="m" x="584.73" y="838.90" textLength="45.40" lengthAdjust="spacingAndGlyphs">f1–score</text>
<text class="m" x="647.15" y="838.90" textLength="39.73" lengthAdjust="spacingAndGlyphs">support</text>
<text class="m" x="448.53" y="862.34" textLength="5.67" lengthAdjust="spacingAndGlyphs">0</text>
<text class="m" x="493.93" y="862.34" textLength="22.70" lengthAdjust="spacingAndGlyphs">1.00</text>
<text class="m" x="550.67" y="862.34" textLength="22.70" lengthAdjust="spacingAndGlyphs">1.00</text>
<text class="m" x="607.42" y="862.34" textLength="22.70" lengthAdjust="spacingAndGlyphs">1.00</text>
<text class="m" x="669.85" y="862.34" textLength="17.02" lengthAdjust="spacingAndGlyphs">595</text>
<text class="m" x="448.53" y="874.06" textLength="5.67" lengthAdjust="spacingAndGlyphs">1</text>
<text class="m" x="493.93" y="874.06" textLength="22.70" lengthAdjust="spacingAndGlyphs">0.99</text>
<text class="m" x="550.67" y="874.06" textLength="22.70" lengthAdjust="spacingAndGlyphs">1.00</text>
<text class="m" x="607.42" y="874.06" textLength="22.70" lengthAdjust="spacingAndGlyphs">0.99</text>
<text class="m" x="669.85" y="874.06" textLength="17.02" lengthAdjust="spacingAndGlyphs">656</text>
<text class="m" x="448.53" y="885.78" textLength="5.67" lengthAdjust="spacingAndGlyphs">2</text>
<text class="m" x="493.93" y="885.78" textLength="22.70" lengthAdjust="spacingAndGlyphs">1.00</text>
<text class="m" x="550.67" y="885.78" textLength="22.70" lengthAdjust="spacingAndGlyphs">0.98</text>
<text class="m" x="607.42" y="885.78" textLength="22.70" lengthAdjust="spacingAndGlyphs">0.99</text>
<text class="m" x="669.85" y="885.78" textLength="17.02" lengthAdjust="spacingAndGlyphs">502</text>
<text class="m" x="448.53" y="897.50" textLength="5.67" lengthAdjust="spacingAndGlyphs">3</text>
<text class="m" x="493.93" y="897.50" textLength="22.70" lengthAdjust="spacingAndGlyphs">0.99</text>
<text class="m" x="550.67" y="897.50" textLength="22.70" lengthAdjust="spacingAndGlyphs">1.00</text>
<text class="m" x="607.42" y="897.50" textLength="22.70" lengthAdjust="spacingAndGlyphs">0.99</text>
<text class="m" x="669.85" y="897.50" textLength="17.02" lengthAdjust="spacingAndGlyphs">838</text>
<text class="m" x="448.53" y="909.22" textLength="5.67" lengthAdjust="spacingAndGlyphs">4</text>
<text class="m" x="493.93" y="909.22" textLength="22.70" lengthAdjust="spacingAndGlyphs">1.00</text>
<text class="m" x="550.67" y="909.22" textLength="22.70" lengthAdjust="spacingAndGlyphs">1.00</text>
<text class="m" x="607.42" y="909.22" textLength="22.70" lengthAdjust="spacingAndGlyphs">1.00</text>
<text class="m" x="669.85" y="909.22" textLength="17.02" lengthAdjust="spacingAndGlyphs">337</text>
<text class="m" x="408.80" y="932.66" textLength="45.40" lengthAdjust="spacingAndGlyphs">accuracy</text>
<text class="m" x="607.42" y="932.66" textLength="22.70" lengthAdjust="spacingAndGlyphs">0.99</text>
<text class="m" x="664.17" y="932.66" textLength="22.70" lengthAdjust="spacingAndGlyphs">2928</text>
<text class="m" x="403.12" y="944.38" textLength="51.07" lengthAdjust="spacingAndGlyphs">macro avg</text>
<text class="m" x="493.93" y="944.38" textLength="22.70" lengthAdjust="spacingAndGlyphs">0.99</text>
<text class="m" x="550.67" y="944.38" textLength="22.70" lengthAdjust="spacingAndGlyphs">0.99</text>
<text class="m" x="607.42" y="944.38" textLength="22.70" lengthAdjust="spacingAndGlyphs">0.99</text>
<text class="m" x="664.17" y="944.38" textLength="22.70" lengthAdjust="spacingAndGlyphs">2928</text>
<text class="m" x="386.10" y="956.10" textLength="68.10" lengthAdjust="spacingAndGlyphs">weighted avg</text>
<text class="m" x="493.93" y="956.10" textLength="22.70" lengthAdjust="spacingAndGlyphs">0.99</text>
<text class="m" x="550.67" y="956.10" textLength="22.70" lengthAdjust="spacingAndGlyphs">0.99</text>
<text class="m" x="607.42" y="956.10" textLength="22.70" lengthAdjust="spacingAndGlyphs">0.99</text>
<text class="m" x="664.17" y="956.10" textLength="22.70" lengthAdjust="spacingAndGlyphs">2928</text>
</g>
<line x1="389" y1="450.2" x2="691" y2="450.2" stroke="#f4f4f4" stroke-width="1"/>
<text x="172.75" y="478.70" font-size="17.5" letter-spacing="1.1" text-anchor="middle" fill="#2a2a2a">(a)</text>
<text x="573.15" y="478.70" font-size="17.5" letter-spacing="1.1" text-anchor="middle" fill="#2a2a2a">(b)</text>
<text x="163.35" y="987.20" font-size="17.5" letter-spacing="1.1" text-anchor="middle" fill="#2a2a2a">(c)</text>
<text x="559.05" y="989.30" font-size="17.5" letter-spacing="1.1" text-anchor="middle" fill="#2a2a2a">(d)</text>
</svg></body></html>
